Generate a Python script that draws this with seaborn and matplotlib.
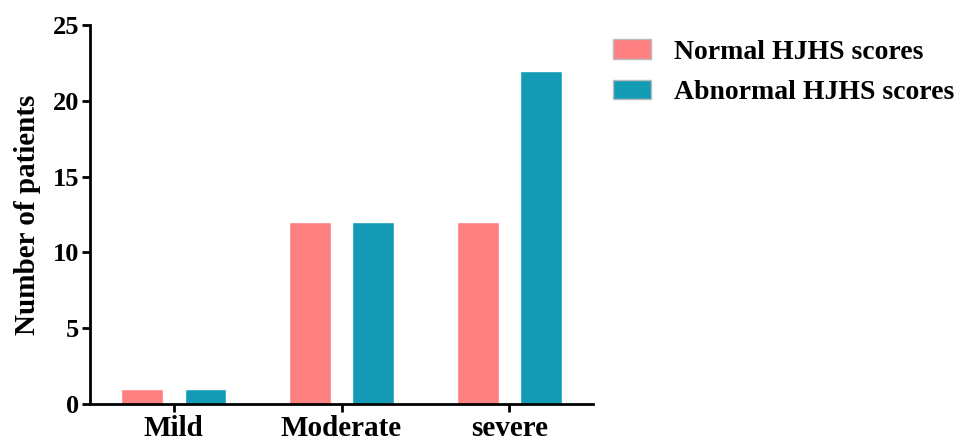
import pandas as pd
import matplotlib.pyplot as plt
import seaborn as sns

# data
severity = ["Mild", "Moderate", "severe"]
normal_hjhs = [1, 12, 12]
abnormal_hjhs = [1, 12, 22]
groups = ["Normal HJHS scores", "Abnormal HJHS scores"]

df = pd.DataFrame({
    "severity": severity * 2,
    "group": [groups[0]] * 3 + [groups[1]] * 3,
    "count": normal_hjhs + abnormal_hjhs,
})

sns.set_theme(style="ticks", rc={"text.color": "black", "axes.labelcolor": "black",
                                 "xtick.color": "black", "ytick.color": "black"})
plt.rcParams["font.family"] = ["Liberation Serif", "DejaVu Serif"]
plt.rcParams["font.weight"] = "bold"

COLORS = ["#FF8080", "#139BB5"]

fig = plt.figure(figsize=(9.73, 4.41), dpi=100)
ax = fig.add_axes([0.0925, 0.084, 0.517, 0.859])

sns.barplot(data=df, x="severity", y="count", hue="group", palette=COLORS,
            width=0.755, gap=0.337, ax=ax, saturation=1, legend=True)

ax.set_xlim(-0.5, 2.5)
ax.set_ylim(0, 25)
ax.set_yticks([0, 5, 10, 15, 20, 25])
ax.set_xlabel("")
ax.set_ylabel("Number of patients", fontsize=21, fontweight="bold", labelpad=8)
ax.tick_params(axis="both", labelsize=19, width=2, length=6, color="black")
for lbl in ax.get_xticklabels() + ax.get_yticklabels():
    lbl.set_fontweight("bold")
ax.tick_params(axis="x", labelsize=21, pad=2)
ax.tick_params(axis="y", pad=2)
for side in ["left", "bottom"]:
    ax.spines[side].set_linewidth(2)
    ax.spines[side].set_color("black")
sns.despine(ax=ax)

handles, labels = ax.get_legend_handles_labels()
for h in handles:
    h.set_edgecolor("#BBBBBB")
    h.set_linewidth(1)
ax.legend(handles, labels, loc="upper left", bbox_to_anchor=(0.616, 0.942),
          bbox_transform=fig.transFigure, frameon=False, borderpad=0,
          prop={"size": 20, "weight": "bold"},
          handlelength=1.35, handleheight=0.72, handletextpad=0.85, labelspacing=0.52)

plt.savefig("out.png", dpi=100)
